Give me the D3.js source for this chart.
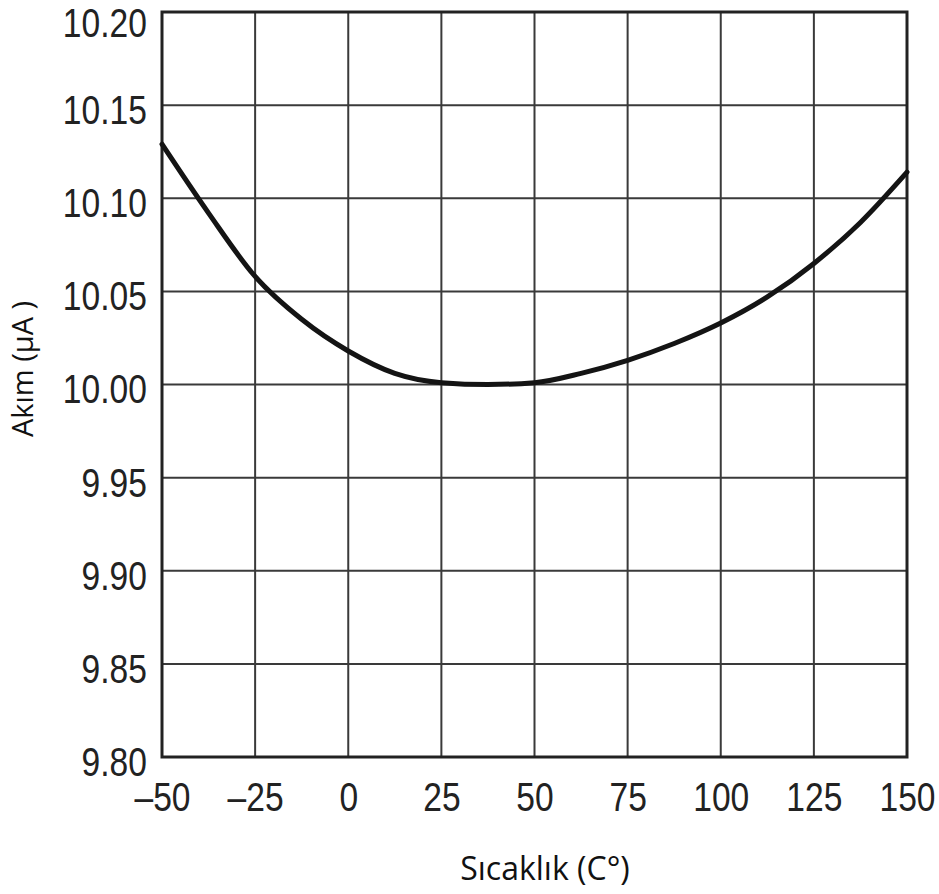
<!DOCTYPE html>
<html>
<head>
<meta charset="utf-8">
<script src="https://cdn.jsdelivr.net/npm/d3@7"></script>
<style>
  body { margin: 0; background: #fff; }
  svg { display: block; }
</style>
</head>
<body>
<svg id="chart" width="939" height="894"></svg>
<script>
// temperature (°C) vs current (µA)
const temps = [-50, -37.5, -25, -12.5, 0, 12.5, 25, 37.5, 50, 62.5, 75, 87.5, 100, 112.5, 125, 137.5, 150];
const current = [10.129, 10.092, 10.058, 10.035, 10.018, 10.006, 10.001, 10.000, 10.001, 10.006, 10.013, 10.022, 10.033, 10.047, 10.065, 10.087, 10.114];
const xTicks = [-50, -25, 0, 25, 50, 75, 100, 125, 150];
const yTicks = [9.80, 9.85, 9.90, 9.95, 10.00, 10.05, 10.10, 10.15, 10.20];

const svg = d3.select('#chart');
const margin = { top: 12, right: 32, bottom: 137, left: 162 };
const width = +svg.attr('width');
const height = +svg.attr('height');

const x = d3.scaleLinear().domain([-50, 150]).range([margin.left, width - margin.right]);
const y = d3.scaleLinear().domain([9.80, 10.20]).range([height - margin.bottom, margin.top]);

// condensed look for the tick numbers
const tickFont = '"Liberation Sans", Arial, sans-serif';
const squeeze = 0.84;

// grid
svg.append('g')
  .selectAll('line')
  .data(xTicks)
  .join('line')
  .attr('x1', d => x(d)).attr('x2', d => x(d))
  .attr('y1', y(9.80)).attr('y2', y(10.20))
  .attr('stroke', '#3a3a3a').attr('stroke-width', 2);

svg.append('g')
  .selectAll('line')
  .data(yTicks)
  .join('line')
  .attr('x1', x(-50)).attr('x2', x(150))
  .attr('y1', d => y(d)).attr('y2', d => y(d))
  .attr('stroke', '#3a3a3a').attr('stroke-width', 2);

// frame
svg.append('rect')
  .attr('x', x(-50)).attr('y', y(10.20))
  .attr('width', x(150) - x(-50)).attr('height', y(9.80) - y(10.20))
  .attr('fill', 'none').attr('stroke', '#222').attr('stroke-width', 3);

// axes (labels only)
const xAxis = svg.append('g')
  .attr('transform', `translate(0,${y(9.80)})`)
  .call(d3.axisBottom(x).tickValues(xTicks).tickSize(0).tickPadding(26)
    .tickFormat(d => (d < 0 ? '\u2013' + Math.abs(d) : String(d))));
xAxis.select('.domain').remove();
xAxis.selectAll('text')
  .attr('font-family', tickFont).attr('font-size', 40).attr('fill', '#222')
  .attr('transform', `scale(${squeeze},1)`);

const yAxis = svg.append('g')
  .attr('transform', `translate(${x(-50)},0)`)
  .call(d3.axisLeft(y).tickValues(yTicks).tickSize(0).tickPadding(18).tickFormat(d3.format('.2f')));
yAxis.select('.domain').remove();
yAxis.selectAll('text')
  .attr('font-family', tickFont).attr('font-size', 40).attr('fill', '#222')
  .attr('dy', d => (d === 10.20 ? '0.61em' : '0.46em'))
  .attr('transform', `scale(${squeeze},1)`);

// curve
const line = d3.line()
  .x((d, i) => x(temps[i]))
  .y(d => y(d))
  .curve(d3.curveMonotoneX);

svg.append('path')
  .datum(current)
  .attr('fill', 'none')
  .attr('stroke', '#141414')
  .attr('stroke-width', 5)
  .attr('stroke-linecap', 'round')
  .attr('d', line);

// titles
svg.append('text')
  .attr('transform', 'translate(33,369) rotate(-90)')
  .attr('text-anchor', 'middle')
  .attr('font-family', '"Open Sans", "Noto Sans", sans-serif')
  .attr('font-size', 29)
  .attr('fill', '#111')
  .text('Akım (µA )');

svg.append('text')
  .attr('x', 545).attr('y', 880)
  .attr('text-anchor', 'middle')
  .attr('font-family', '"Open Sans", "Noto Sans", sans-serif')
  .attr('font-size', 32)
  .attr('fill', '#111')
  .text('Sıcaklık (C°)');
</script>
</body>
</html>
